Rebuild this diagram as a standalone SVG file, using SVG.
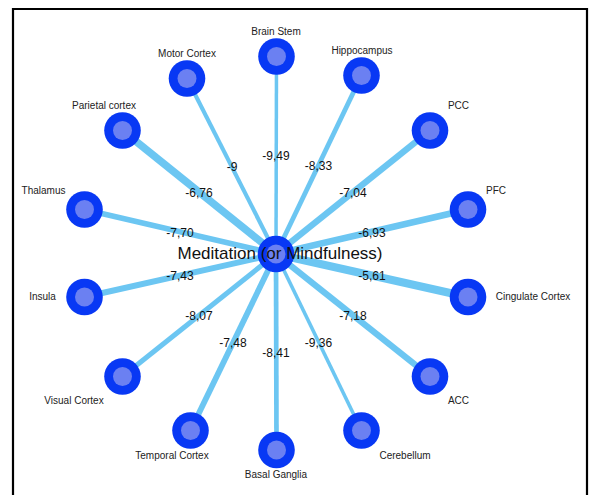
<svg xmlns="http://www.w3.org/2000/svg" width="589" height="495" viewBox="0 0 589 495">
<style>
.edge{stroke:#6CC6F2;stroke-linecap:butt;fill:none}
.outer{fill:#0838F4}
.inner{fill:#6B80F2}
.lbl{font-family:"Liberation Sans",Arial,sans-serif;font-size:10px;fill:#222;text-anchor:middle}
.el{font-family:"Liberation Sans",Arial,sans-serif;font-size:12px;fill:#111;text-anchor:middle}
.cl{font-family:"Liberation Sans",Arial,sans-serif;font-size:17px;fill:#111;text-anchor:middle}
</style>
<rect x="0" y="0" width="589" height="495" fill="#fff"/>
<path d="M13 500 V9 H587 V500" fill="none" stroke="#000" stroke-width="2.2"/>
<g id="connectors">
<line class="edge" x1="276" y1="254" x2="276.5" y2="56.5" stroke-width="3.5"/>
<line class="edge" x1="276" y1="254" x2="187" y2="78.5" stroke-width="4.1"/>
<line class="edge" x1="276" y1="254" x2="122.5" y2="130.5" stroke-width="7.5"/>
<line class="edge" x1="276" y1="254" x2="84.5" y2="209.5" stroke-width="5.6"/>
<line class="edge" x1="276" y1="254" x2="361.5" y2="75.5" stroke-width="4.8"/>
<line class="edge" x1="276" y1="254" x2="430" y2="130.5" stroke-width="6.3"/>
<line class="edge" x1="276" y1="254" x2="468" y2="209.5" stroke-width="6.5"/>
<line class="edge" x1="276" y1="254" x2="84.5" y2="297" stroke-width="5.9"/>
<line class="edge" x1="276" y1="254" x2="122.5" y2="376.5" stroke-width="5.1"/>
<line class="edge" x1="276" y1="254" x2="190.5" y2="430.5" stroke-width="5.8"/>
<line class="edge" x1="276" y1="254" x2="276.5" y2="450" stroke-width="4.7"/>
<line class="edge" x1="276" y1="254" x2="361.5" y2="430.5" stroke-width="3.6"/>
<line class="edge" x1="276" y1="254" x2="430" y2="376.5" stroke-width="6.2"/>
<line class="edge" x1="276" y1="254" x2="468" y2="297" stroke-width="8"/>
</g>
<g id="edge-labels">
<text class="el" x="276" y="160">-9,49</text>
<text class="el" x="232" y="171">-9</text>
<text class="el" x="199" y="197">-6,76</text>
<text class="el" x="180" y="237">-7,70</text>
<text class="el" x="318.5" y="170">-8,33</text>
<text class="el" x="353" y="197">-7,04</text>
<text class="el" x="372" y="237">-6,93</text>
<text class="el" x="180" y="280">-7,43</text>
<text class="el" x="199" y="320">-8,07</text>
<text class="el" x="233" y="347">-7,48</text>
<text class="el" x="276" y="357">-8,41</text>
<text class="el" x="318.5" y="347">-9,36</text>
<text class="el" x="353" y="320">-7,18</text>
<text class="el" x="372" y="280">-5,61</text>
</g>
<g id="n-brainstem"><circle class="outer" cx="276.5" cy="56.5" r="18.3"/><circle class="inner" cx="276.5" cy="56.5" r="9.5"/><text class="lbl" x="276" y="35">Brain Stem</text></g>
<g id="n-motor"><circle class="outer" cx="187" cy="78.5" r="18.3"/><circle class="inner" cx="187" cy="78.5" r="9.5"/><text class="lbl" x="187" y="57">Motor Cortex</text></g>
<g id="n-parietal"><circle class="outer" cx="122.5" cy="130.5" r="18.3"/><circle class="inner" cx="122.5" cy="130.5" r="9.5"/><text class="lbl" x="104" y="109">Parietal cortex</text></g>
<g id="n-thalamus"><circle class="outer" cx="84.5" cy="209.5" r="18.3"/><circle class="inner" cx="84.5" cy="209.5" r="9.5"/><text class="lbl" x="43.5" y="194">Thalamus</text></g>
<g id="n-hippocampus"><circle class="outer" cx="361.5" cy="75.5" r="18.3"/><circle class="inner" cx="361.5" cy="75.5" r="9.5"/><text class="lbl" x="362" y="54">Hippocampus</text></g>
<g id="n-pcc"><circle class="outer" cx="430" cy="130.5" r="18.3"/><circle class="inner" cx="430" cy="130.5" r="9.5"/><text class="lbl" x="458.5" y="109">PCC</text></g>
<g id="n-pfc"><circle class="outer" cx="468" cy="209.5" r="18.3"/><circle class="inner" cx="468" cy="209.5" r="9.5"/><text class="lbl" x="496" y="194">PFC</text></g>
<g id="n-insula"><circle class="outer" cx="84.5" cy="297" r="18.3"/><circle class="inner" cx="84.5" cy="297" r="9.5"/><text class="lbl" x="42.5" y="300">Insula</text></g>
<g id="n-visual"><circle class="outer" cx="122.5" cy="376.5" r="18.3"/><circle class="inner" cx="122.5" cy="376.5" r="9.5"/><text class="lbl" x="74" y="404">Visual Cortex</text></g>
<g id="n-temporal"><circle class="outer" cx="190.5" cy="430.5" r="18.3"/><circle class="inner" cx="190.5" cy="430.5" r="9.5"/><text class="lbl" x="172" y="459">Temporal Cortex</text></g>
<g id="n-basal"><circle class="outer" cx="276.5" cy="450" r="18.3"/><circle class="inner" cx="276.5" cy="450" r="9.5"/><text class="lbl" x="276" y="478">Basal Ganglia</text></g>
<g id="n-cerebellum"><circle class="outer" cx="361.5" cy="430.5" r="18.3"/><circle class="inner" cx="361.5" cy="430.5" r="9.5"/><text class="lbl" x="405" y="459">Cerebellum</text></g>
<g id="n-acc"><circle class="outer" cx="430" cy="376.5" r="18.3"/><circle class="inner" cx="430" cy="376.5" r="9.5"/><text class="lbl" x="458.5" y="404">ACC</text></g>
<g id="n-cingulate"><circle class="outer" cx="468" cy="297" r="18.3"/><circle class="inner" cx="468" cy="297" r="9.5"/><text class="lbl" x="533" y="300">Cingulate Cortex</text></g>
<g id="n-meditation"><circle class="outer" cx="276" cy="254" r="18.3"/><circle class="inner" cx="276" cy="254" r="9.5"/><text class="cl" x="280" y="259">Meditation (or Mindfulness)</text></g>
</svg>
